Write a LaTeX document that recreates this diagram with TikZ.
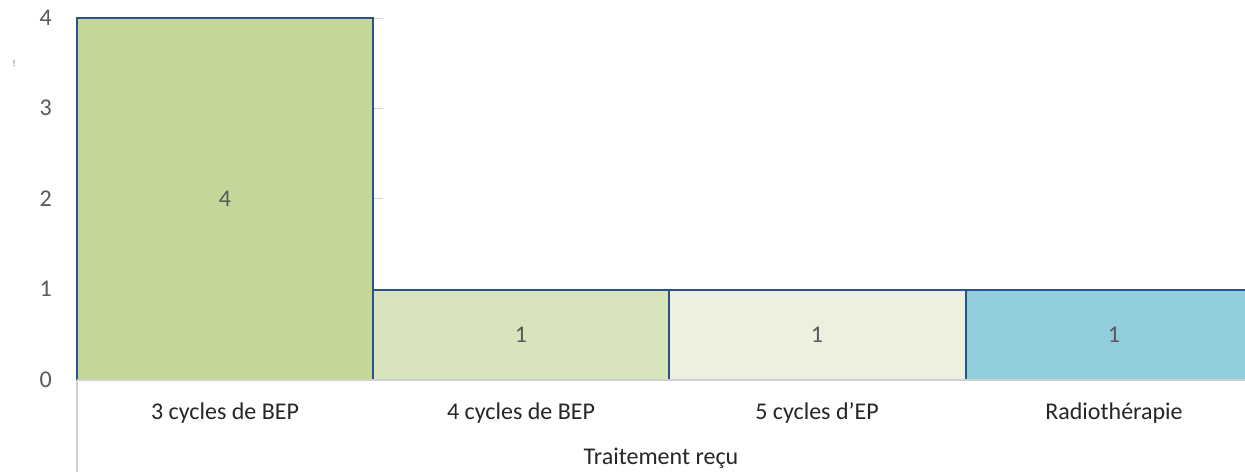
\documentclass[tikz,border=0pt]{standalone}
\usepackage{fontspec}
\setmainfont{Carlito}
\definecolor{barA}{HTML}{C4D79B}
\definecolor{barB}{HTML}{D8E4BC}
\definecolor{barC}{HTML}{EBF1DE}
\definecolor{barD}{HTML}{92CDDC}
\definecolor{edgeblue}{HTML}{2A5189}
\definecolor{tickgray}{HTML}{595959}
\definecolor{axisgray}{HTML}{D0D0D0}
\begin{document}
\begin{tikzpicture}[x=1pt,y=-1pt,
  bar/.style={draw=edgeblue,line width=1.6pt},
  ticklab/.style={text=tickgray,font=\fontsize{24}{26}\selectfont,anchor=east,inner sep=0pt},
  datalab/.style={text=tickgray,font=\fontsize{24}{26}\selectfont},
  catlab/.style={text=black!85,font=\fontsize{24}{26}\selectfont},
  axis/.style={draw=axisgray,line width=1.2pt}]
\useasboundingbox (0,0) rectangle (1245,472);
\fill[white] (0,0) rectangle (1245,472);
% gridline stubs
\foreach \yy in {18,108,198} \draw[axisgray,line width=1pt] (374,\yy) -- (383,\yy);
% bars
\draw[bar,fill=barA] (77,380) rectangle (373,18);
\draw[bar,fill=barB] (373,380) rectangle (669,290);
\draw[bar,fill=barC] (669,380) rectangle (966,290);
\draw[bar,fill=barD] (966,380) rectangle (1246,290);
% axes
\draw[axis] (77,380) -- (1245,380);
\draw[axis] (77,380) -- (77,472);
% tick labels
\node[ticklab] (t0) at (52,380) {0};
\node[ticklab] (t1) at (52,289) {1};
\node[ticklab] (t2) at (52,199) {2};
\node[ticklab] (t3) at (52,108) {3};
\node[ticklab] (t4) at (52,18) {4};
\node[text=tickgray,font=\fontsize{9}{10}\selectfont] (yt) at (14,63) {!};
% data labels
\node[datalab] (d1) at (225,199) {4};
\node[datalab] (d2) at (521,335) {1};
\node[datalab] (d3) at (817,335) {1};
\node[datalab] (d4) at (1114,335) {1};
% categories
\node[catlab] (c1) at (225,413) {3 cycles de BEP};
\node[catlab] (c2) at (521,413) {4 cycles de BEP};
\node[catlab] (c3) at (817,413) {5 cycles d’EP};
\node[catlab] (c4) at (1114,413) {Radiothérapie};
\node[catlab] (title) at (661,458) {Traitement reçu};
\end{tikzpicture}
\end{document}
